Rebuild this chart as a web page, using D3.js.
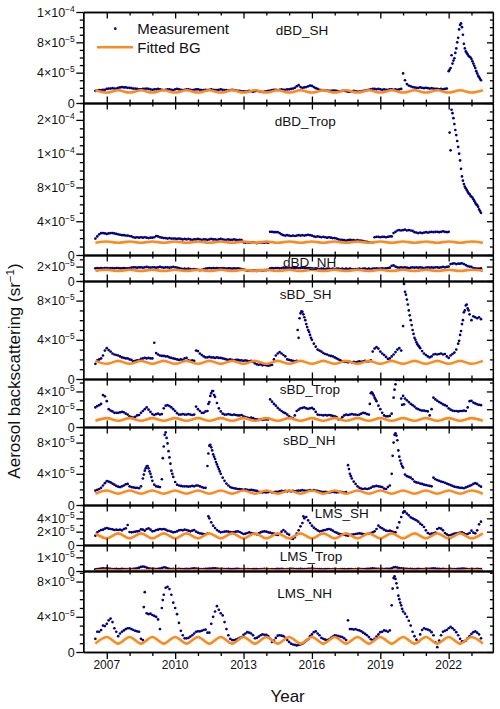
<!DOCTYPE html>
<html>
<head>
<meta charset="utf-8">
<script src="https://cdn.jsdelivr.net/npm/d3@7"></script>
<style>
  body { margin: 0; background: #fff; }
  svg { display: block; }
  text { font-family: "Liberation Sans", Arial, sans-serif; fill: #111; }
</style>
</head>
<body>
<div id="chart"></div>
<script>
// values in units of 1e-5 sr^-1, monthly from 2006.5
var UNIT = 1e-5, START = 2006.5, STEP = 1 / 12, BG_STEP = 0.5;

var panelNames = ["dBD_SH", "dBD_Trop", "dBD_NH", "sBD_SH", "sBD_Trop", "sBD_NH", "LMS_SH", "LMS_Trop", "LMS_NH"];
var yMax = [12, 18, 3.6, 10, 5.4, 10, 6, 1.9, 9.2];
var yTicks = [[0, 4, 8, 12], [0, 4, 8, 12, 16], [0, 2], [0, 4, 8], [0, 2, 4], [0, 4, 8], [0, 2, 4], [0, 1], [0, 4, 8]];
var yTickLabels = [
  ["0", "4×10^-5", "8×10^-5", "1×10^-4"],
  ["0", "4×10^-5", "8×10^-5", "1×10^-4", "2×10^-4"],
  ["0", "2×10^-5"],
  ["0", "4×10^-5", "8×10^-5"],
  ["0", "2×10^-5", "4×10^-5"],
  ["0", "4×10^-5", "8×10^-5"],
  ["0", "2×10^-5", "4×10^-5"],
  ["0", "1×10^-5"],
  ["0", "4×10^-5", "8×10^-5"]
];
var yMinorStep = [1, 1, 1, 1, 1, 1, 1, 0.5, 1];
var xMajor = [2007, 2010, 2013, 2016, 2019, 2022];
var xMinor = [2008, 2009, 2011, 2012, 2014, 2015, 2017, 2018, 2020, 2021, 2023];

var dBD_SH = [
  1.6,1.65,1.7,1.7,1.75,1.75, 1.85,1.9,1.9,1.95,1.9,1.9, 2.0,2.05,2.1,2.05,2.05,2.0, 2.0,1.95,1.9,1.9,1.85,1.8,
  1.8,1.85,1.85,1.9,1.85,1.8, 1.75,1.8,1.8,1.85,1.8,1.75, 1.7,1.75,1.8,1.8,1.75,1.7, 1.8,1.85,1.8,1.75,1.7,1.75,
  1.8,1.8,1.75,1.7,1.75,1.8, 1.8,1.75,1.7,1.7,1.75,1.7, 1.75,1.8,1.75,1.7,1.7,1.75, 1.8,1.75,1.7,1.7,1.65,1.7,
  1.75,1.7,1.65,1.6,1.6,1.55, 1.55,1.5,1.55,1.6,1.55,1.5, 1.55,1.6,1.55,1.5,1.45,1.5, 1.55,1.6,1.65,1.7,1.75,1.75,
  1.7,1.75,1.8,1.75,1.75,1.8, 1.8,1.85,1.9,2.0,2.2,2.35, 2.1,2.0,2.05,2.1,2.2,2.3, 2.25,2.1,1.95,1.85,1.75,1.7,
  1.7,1.65,1.65,1.6,1.6,1.65, 1.65,1.6,1.55,1.55,1.6,1.6, 1.55,1.5,1.5,1.55,1.6,1.55, 1.5,1.5,1.55,1.6,1.65,1.7,
  1.75,1.8,1.85,1.85,1.8,1.85, 1.8,1.75,1.8,1.75,1.75,1.8, 1.8,1.75,1.8,1.75,1.8,1.85, 3.9,3.0,2.5,2.3,2.2,2.1,
  2.05,2.0,2.0,2.05,2.0,1.95, 2.0,1.95,1.9,1.95,1.9,1.85, 1.85,1.8,1.85,1.8,1.85,1.9, 4.2,4.6,5.2,5.9,7.2,8.6,
  10.3,10.0,7.8,6.8,6.4,6.1, 5.8,5.2,4.6,3.9,3.4,3.0
];
var dBD_Trop = [
  1.95,2.2,2.45,2.6,2.6,2.55, 2.5,2.55,2.6,2.6,2.55,2.5, 2.45,2.4,2.35,2.35,2.3,2.3, 2.25,2.2,2.1,2.05,2.1,2.05,
  2.1,2.05,2.1,2.05,2.0,2.05, 2.05,2.1,2.25,2.2,2.1,2.05, 2.0,2.0,1.95,2.0,1.95,1.95, 1.95,1.9,1.95,1.9,1.85,1.9,
  1.85,1.9,1.85,1.8,1.85,1.85, 1.9,1.85,1.8,1.85,1.85,1.8, 1.85,1.9,1.85,1.85,1.8,1.85, 1.9,1.85,1.8,1.8,1.85,1.8,
  1.8,1.85,1.8,1.75,1.8,1.75, 1.5,1.45,1.5,1.45,1.45,1.5, 1.45,1.4,1.45,1.5,1.45,1.45, 1.5,1.45,2.75,2.75,2.7,2.7,
  2.7,2.6,2.45,2.35,2.3,2.35, 2.3,2.25,2.3,2.25,2.3,2.35, 2.3,2.35,2.3,2.35,2.4,2.35, 2.3,2.2,2.15,2.2,2.15,2.1,
  2.15,2.1,2.05,2.1,2.05,2.0, 2.0,1.95,1.85,1.8,1.8,1.75, 1.7,1.75,1.8,1.75,1.75,1.7, 1.75,1.7,1.7,1.65,1.6,1.55,
  1.5,1.45,1.5,2.1,2.15,2.15, 2.1,2.15,2.15,2.1,2.15,2.2, 2.2,2.6,2.75,2.9,2.95,2.9, 2.95,3.0,2.9,2.95,2.9,2.85,
  2.7,2.65,2.6,2.65,2.6,2.65, 2.7,2.65,2.7,2.75,2.7,2.75, 2.75,2.7,2.75,2.8,2.75,2.7, 2.75,12.4,16.8,15.5,14.2,12.8,
  11.2,9.3,8.4,7.9,7.5,7.2, 6.9,6.6,6.2,5.9,5.4,5.0
];
var dBD_NH = [
  1.75,1.8,1.75,1.8,1.75,1.8, 1.8,1.75,1.8,1.8,1.75,1.8, 1.8,1.75,1.75,1.8,1.75,1.75, 1.8,1.85,1.9,1.9,1.85,1.9,
  1.9,1.85,1.9,1.95,1.9,1.85, 1.9,1.9,1.85,1.9,1.95,1.9, 1.85,1.9,1.9,1.85,1.9,1.95, 1.9,1.85,1.8,1.7,1.65,1.7,
  1.65,1.7,1.65,1.6,1.65,1.6, 1.55,1.5,1.55,1.6,1.7,1.75, 1.8,1.75,1.8,1.75,1.8,1.75, 1.75,1.8,1.75,1.7,1.75,1.75,
  1.7,1.75,1.7,1.75,1.7,1.65, 1.6,1.5,1.45,1.45,1.4,1.45, 1.45,1.4,1.45,1.5,1.45,1.5, 1.5,1.55,1.75,1.8,1.75,1.8,
  1.8,1.75,1.8,1.85,1.8,1.75, 1.8,1.8,1.75,1.8,1.85,1.8, 1.8,1.85,1.8,1.75,1.8,1.8, 1.75,1.7,1.75,1.7,1.65,1.7,
  1.7,1.65,1.7,1.7,1.65,1.7, 1.65,1.7,1.7,1.65,1.7,1.65, 1.7,1.65,1.7,1.65,1.6,1.65, 1.65,1.7,1.65,1.7,1.7,1.65,
  1.7,1.65,1.7,1.7,1.75,1.7, 1.7,1.75,1.7,1.75,1.8,1.85, 2.1,2.15,2.0,1.9,1.85,1.9, 1.85,1.9,1.85,1.8,1.85,1.9,
  1.85,1.9,1.85,1.9,1.85,1.8, 1.85,1.9,1.85,1.9,1.85,1.9, 1.9,1.85,1.9,1.95,1.9,1.95, 2.0,2.35,2.4,2.45,2.35,2.4,
  2.4,2.45,2.35,2.2,2.05,2.0, 1.95,1.8,1.75,1.7,1.7,1.75
];
var sBD_SH = [
  1.55,1.9,2.0,2.1,2.4,2.9, 3.15,2.95,2.8,2.6,2.5,2.45, 2.4,2.3,2.2,2.15,2.1,2.1, 2.0,1.95,1.8,1.85,1.9,1.9,
  2.05,2.1,2.15,2.1,2.15,2.1, 2.1,3.7,2.65,2.5,2.4,2.35, 2.35,2.3,2.3,2.2,2.15,2.1, 2.05,2.0,1.95,2.0,1.95,2.1,
  2.15,1.9,1.85,1.9,1.85,2.9, 2.85,2.6,2.45,2.3,2.2,2.2, 2.25,2.2,2.2,2.15,2.2,2.15, 2.15,2.1,2.05,2.0,1.95,2.0,
  1.95,1.9,1.95,1.95,1.9,1.9, 1.85,1.9,1.85,1.8,1.85,1.75, 1.6,1.5,1.45,1.5,1.4,1.45, 1.4,1.35,1.4,1.45,2.0,2.4,
  2.6,2.75,2.6,2.45,2.3,2.0, 1.95,1.9,1.85,1.8,1.85,4.2, 6.7,6.85,6.3,5.6,5.0,4.5, 4.0,3.6,3.3,3.0,2.9,2.8,
  2.65,2.55,2.5,2.4,2.35,2.3, 2.2,2.1,2.0,1.9,1.8,1.75, 1.75,1.7,1.75,1.7,1.75,1.7, 1.75,1.8,1.75,1.8,1.85,1.8,
  1.8,1.9,2.8,3.1,3.25,3.1, 2.8,2.6,2.45,2.25,2.05,2.1, 2.3,2.5,2.75,3.0,3.15,2.9, 5.4,8.9,8.1,7.0,6.0,5.0,
  4.2,3.75,3.4,3.15,2.85,2.6, 2.45,2.3,2.2,2.3,2.5,2.55, 2.5,2.55,2.6,2.5,2.55,2.3, 2.15,2.4,2.55,2.7,3.0,3.6,
  4.5,5.6,6.8,7.5,7.2,6.6, 6.0,6.4,6.3,6.2,6.3,6.1
];
var sBD_Trop = [
  2.2,2.35,2.45,2.6,3.6,3.45, 2.9,2.0,1.85,1.75,1.6,1.6, 1.6,1.65,1.7,1.65,1.5,1.4, 1.2,1.1,1.05,1.15,1.3,1.35,
  1.6,1.8,2.0,2.2,1.95,1.7, 1.45,1.35,1.45,1.5,1.4,1.45, 2.1,2.4,2.45,2.35,2.2,2.0, 1.8,1.55,1.4,1.4,1.45,1.4,
  1.4,1.45,1.4,1.35,1.4,2.3, 2.0,1.8,1.6,1.6,1.75,1.8, 2.8,3.8,4.05,3.4,2.7,2.1, 1.75,1.5,1.4,1.4,1.45,1.4,
  1.35,1.4,1.35,1.3,1.3,1.35, 1.2,1.1,1.05,1.0,1.05,1.0, 0.9,0.85,0.8,0.85,0.8,0.85, 0.85,0.85,3.1,2.85,2.6,2.4,
  2.15,1.95,1.8,1.65,1.55,1.4, 1.2,1.05,1.0,1.3,1.8,1.95, 2.1,2.15,2.2,2.1,2.05,2.1, 2.15,2.0,1.7,1.4,1.35,1.35,
  1.3,1.35,1.3,1.35,1.3,1.25, 1.2,1.1,0.85,0.9,1.1,1.3, 1.4,1.35,1.4,1.45,1.4,1.4, 1.35,1.4,1.5,1.6,1.55,1.45,
  1.4,3.8,3.75,3.3,2.9,2.4, 2.0,1.6,1.3,1.2,1.2,1.25, 1.5,3.3,4.8,5.6,5.3,3.2, 3.5,3.2,3.0,2.8,2.6,2.45,
  2.3,2.1,2.0,1.9,1.85,1.85, 1.8,1.75,1.3,2.0,3.3,3.1, 2.95,2.8,2.7,2.55,2.45,2.35, 2.1,1.95,1.85,1.8,1.8,1.75,
  1.8,1.8,1.85,1.8,2.2,2.9, 2.95,2.75,2.65,2.55,2.5,2.45
];
var sBD_NH = [
  1.85,1.95,2.05,2.2,2.5,2.8, 3.05,3.0,2.9,2.75,2.6,2.45, 2.35,2.3,2.4,2.5,2.65,2.7, 2.4,2.3,2.25,2.2,2.2,2.15,
  2.4,3.4,4.4,4.95,4.7,4.0, 3.1,2.6,2.4,2.35,2.3,3.3, 7.5,9.3,7.9,6.1,4.4,3.6, 2.95,2.6,2.5,2.45,2.4,2.4,
  2.4,2.35,2.4,2.45,2.4,2.5, 2.5,2.4,2.3,2.2,2.2,5.0, 7.6,7.4,6.5,5.9,5.2,4.6, 4.0,3.5,3.1,2.75,2.5,2.3,
  2.2,2.15,2.1,2.05,2.05,2.0, 1.95,2.0,1.95,1.9,1.95,1.9, 1.85,1.8,1.7,1.65,1.6,1.65, 1.6,1.65,1.7,1.6,1.65,1.7,
  1.7,1.75,1.8,1.75,1.8,1.75, 1.8,1.75,1.8,1.75,1.8,1.85, 1.85,1.9,1.85,1.8,1.85,1.9, 1.85,1.9,1.85,1.8,1.75,1.7,
  1.65,1.7,1.65,1.6,1.65,1.7, 1.65,1.6,1.65,1.7,1.65,1.6, 1.65,5.1,4.0,3.4,3.0,2.7, 2.4,2.2,2.1,2.05,2.1,2.05,
  2.1,2.2,2.35,2.4,2.45,2.4, 2.35,2.3,2.1,2.05,2.3,2.5, 4.0,8.0,9.2,8.3,6.2,5.3, 4.8,3.9,3.7,3.6,3.5,3.3,
  3.0,2.9,2.85,2.75,2.7,2.6, 2.55,2.5,2.45,2.4,3.5,3.3, 3.2,3.1,3.0,2.95,2.85,2.75, 2.65,2.55,2.45,2.35,2.3,2.25,
  2.2,2.2,2.15,2.25,2.35,2.45, 2.55,2.7,2.8,2.7,2.5,2.35
];
var LMS_SH = [
  1.4,1.9,2.1,2.25,2.3,2.45, 2.55,2.45,2.4,2.35,2.25,2.3, 2.25,2.3,2.2,2.4,2.5,3.0, 1.95,1.9,1.95,2.0,2.05,2.1,
  2.35,2.3,2.15,2.4,2.5,2.3, 2.05,2.1,2.25,2.3,2.4,2.35, 2.4,2.3,2.15,2.1,2.0,1.9, 1.95,2.05,2.2,2.25,2.2,2.3,
  2.25,2.15,2.05,2.15,2.25,2.0, 1.85,1.75,1.7,1.65,1.6,1.7, 4.0,3.4,2.9,2.55,2.25,2.05, 1.9,1.95,2.0,2.05,2.0,1.95,
  1.9,1.95,2.0,2.05,1.95,1.8, 1.65,1.7,1.8,1.9,1.8,1.75, 1.65,1.6,1.75,1.9,2.0,2.05, 2.0,1.9,1.85,1.75,1.7,1.55,
  1.5,1.65,2.0,2.25,2.0,1.7, 1.55,1.0,0.9,1.15,1.7,2.2, 2.8,3.3,4.0,4.2,3.7,3.3, 2.9,2.6,2.4,2.2,2.05,2.1,
  2.2,2.25,2.35,2.4,2.3,2.15, 1.95,1.85,1.7,1.65,1.6,1.55, 1.45,1.4,1.5,1.55,1.6,1.65, 1.7,1.75,1.7,1.65,1.6,1.65,
  1.7,1.8,1.9,2.05,2.4,2.9, 2.65,2.5,2.3,2.15,2.1,2.15, 2.05,1.95,1.9,2.6,3.4,4.2, 4.85,5.0,4.7,4.45,4.15,4.0,
  3.85,3.7,3.5,3.2,3.0,2.7, 2.2,1.8,1.65,1.7,1.75,1.85, 2.4,2.55,2.45,2.2,1.8,1.6, 1.45,1.5,1.6,1.7,1.75,1.8,
  1.85,1.9,1.75,1.6,1.65,1.8, 2.15,1.85,1.75,2.2,3.1,3.5
];
var LMS_Trop = [
  0.12,0.14,0.15,0.17,0.2,0.18, 0.2,0.17,0.15,0.14,0.13,0.15, 0.14,0.13,0.15,0.14,0.13,0.14, 0.15,0.14,0.16,0.18,0.2,0.24,
  0.3,0.32,0.3,0.25,0.2,0.17, 0.15,0.16,0.14,0.15,0.18,0.22, 0.27,0.25,0.2,0.16,0.14,0.15, 0.13,0.14,0.15,0.14,0.13,0.14,
  0.15,0.14,0.16,0.18,0.2,0.17, 0.15,0.14,0.13,0.14,0.15,0.16, 0.17,0.18,0.2,0.19,0.17,0.15, 0.14,0.15,0.13,0.14,0.15,0.14,
  0.13,0.14,0.15,0.16,0.14,0.13, 0.12,0.13,0.14,0.13,0.12,0.13, 0.14,0.13,0.12,0.13,0.14,0.15, 0.14,0.13,0.12,0.13,0.12,0.14,
  0.15,0.14,0.15,0.13,0.12,0.13, 0.14,0.15,0.16,0.14,0.13,0.14, 0.15,0.14,0.13,0.14,0.15,0.16, 0.17,0.16,0.14,0.13,0.14,0.13,
  0.12,0.13,0.14,0.13,0.12,0.13, 0.14,0.13,0.12,0.13,0.14,0.13, 0.12,0.13,0.14,0.13,0.12,0.13, 0.14,0.15,0.14,0.13,0.14,0.15,
  0.16,0.18,0.2,0.18,0.16,0.15, 0.14,0.15,0.14,0.15,0.16,0.15, 0.2,0.27,0.28,0.25,0.22,0.2, 0.18,0.16,0.15,0.14,0.15,0.14,
  0.13,0.14,0.15,0.14,0.13,0.14, 0.15,0.16,0.15,0.18,0.2,0.18, 0.16,0.15,0.14,0.15,0.14,0.13, 0.14,0.15,0.14,0.13,0.14,0.15,
  0.16,0.18,0.17,0.15,0.14,0.13, 0.14,0.13,0.14,0.15,0.14,0.13
];
var LMS_NH = [
  1.5,2.3,2.3,2.5,3.0,2.95, 3.2,3.6,3.8,3.4,2.7,2.3, 1.8,2.1,2.3,2.45,2.6,2.7, 2.7,2.6,2.5,2.4,2.35,2.3,
  1.5,1.35,6.8,4.4,4.3,4.35, 4.2,4.1,4.0,3.7,2.6,5.0, 6.5,7.3,7.4,7.15,6.5,5.6, 5.0,4.3,3.3,2.4,1.9,1.55,
  1.55,1.6,1.75,1.9,2.1,2.3, 2.35,2.35,2.4,2.5,2.55,2.2, 2.2,3.2,4.0,4.6,5.2,4.8, 4.4,4.15,3.4,2.6,1.9,1.5,
  1.35,1.35,1.4,1.5,1.6,1.7, 1.95,2.1,2.25,2.2,2.1,1.9, 1.55,1.6,1.75,1.9,2.0,1.95, 1.95,1.8,1.5,1.15,1.3,1.6,
  1.85,1.9,1.85,1.8,1.6,1.35, 1.15,0.95,0.85,0.8,0.75,0.8, 0.85,0.95,1.1,1.3,1.45,1.8, 2.0,2.25,2.35,2.1,1.9,1.6,
  1.5,1.4,1.35,1.45,1.6,1.75, 1.9,1.85,1.8,1.75,1.7,1.55, 1.35,3.6,2.6,2.6,2.55,2.6, 2.5,2.45,2.35,2.2,2.05,1.9,
  1.7,1.45,1.35,1.5,1.75,2.0, 2.25,2.3,2.45,2.4,2.3,2.45, 5.3,8.4,8.3,7.3,6.0,5.3, 4.6,4.35,4.0,3.55,3.0,2.3,
  1.8,1.4,1.15,2.0,2.5,2.7, 2.6,2.55,2.45,2.25,1.9,1.1, 0.55,1.3,1.9,2.3,2.4,2.5, 2.7,2.85,2.7,2.5,2.25,1.9,
  1.5,1.2,1.2,1.3,1.55,1.8, 2.05,2.25,2.35,2.2,2.0,1.55
];

// extra readings inside fast events, [first year, values every month]
var extraDBD_SH = [[2022.0417, [4.4,6.3,5.6,6.6,8.0,9.7,10.5,9.0,7.2,6.6,6.2,6.0,5.5,4.9,4.2,3.6,3.2]]];
var extraDBD_Trop = [[2022.0417, [14.5,17.2,16.2,14.8,13.5,12.0,10.2,8.8,8.1,7.7,7.3,7.0,6.8,6.4,6.0,5.7,5.2]]];
var extraDBD_NH = [];
var extraSBD_SH = [[2015.375, [5.0,6.2,6.9,6.6,6.0,5.3,4.8,4.2]], [2020.0417, [9.7,8.6,7.6,6.5,5.5,4.6,4.0,3.55,3.3]],
  [2022.4583, [3.9,4.9,6.0,7.0,7.6,7.0]]];
var extraSBD_Trop = [[2011.4583, [2.6,3.5,4.05,3.6]], [2018.5417, [2.6,3.9,3.55,3.1]], [2019.625, [4.2,5.3,5.6]],
  [2019.9583, [2.5,2.55]]];
var extraSBD_NH = [[2008.625, [3.9,4.7,5.0,4.3,3.6]], [2009.4583, [6.0,9.0,8.6,6.9,5.3,4.0]],
  [2011.4583, [6.6,7.7,7.0,6.2,5.5,4.9,4.3]], [2017.625, [4.6,3.7]], [2019.5417, [6.3,9.0,8.9,7.0,5.7,5.0]]];
var extraLMS_SH = [[2011.4583, [4.3]], [2015.625, [4.3]], [2020.0417, [5.05]]];
var extraLMS_Trop = [];
var extraLMS_NH = [[2008.625, [5.1]], [2009.4583, [5.9]], [2019.5417, [7.2,8.6,7.8,6.4,5.6,4.9]]];

// fitted background, every half year from 2006.5
var bgDBD_SH = [1.68,1.38,1.68,1.38,1.68,1.38,1.68,1.38,1.68,1.38,1.68,1.38,1.68,1.38,1.68,1.38,1.68,1.38,
  1.68,1.38,1.68,1.38,1.68,1.38,1.68,1.38,1.68,1.38,1.68,1.38,1.68,1.38,1.68,1.38,1.68];
var bgDBD_Trop = [1.45,1.6,1.45,1.6,1.45,1.6,1.45,1.6,1.45,1.6,1.45,1.6,1.45,1.6,1.45,1.6,1.45,1.6,
  1.45,1.6,1.45,1.6,1.45,1.6,1.45,1.6,1.45,1.6,1.45,1.6,1.45,1.6,1.45,1.6,1.45];
var bgDBD_NH = [1.4,1.55,1.4,1.55,1.4,1.55,1.4,1.55,1.4,1.55,1.4,1.55,1.4,1.55,1.4,1.55,1.4,1.55,
  1.4,1.55,1.4,1.55,1.4,1.55,1.4,1.55,1.4,1.55,1.4,1.55,1.4,1.55,1.4,1.55,1.4];
var bgSBD_SH = [1.85,1.55,1.85,1.55,1.85,1.55,1.85,1.55,1.85,1.55,1.85,1.55,1.85,1.55,1.85,1.55,1.85,1.55,
  1.85,1.55,1.85,1.55,1.85,1.55,1.85,1.55,1.85,1.55,1.85,1.55,1.85,1.55,1.85,1.55,1.85];
var bgSBD_Trop = [0.7,1.0,0.7,1.0,0.7,1.0,0.7,1.0,0.7,1.0,0.7,1.0,0.7,1.0,0.7,1.0,0.7,1.0,
  0.7,1.0,0.7,1.0,0.7,1.0,0.7,1.0,0.7,1.0,0.7,1.0,0.7,1.0,0.7,1.0,0.7];
var bgSBD_NH = [1.45,1.85,1.45,1.85,1.45,1.85,1.45,1.85,1.45,1.85,1.45,1.85,1.45,1.85,1.45,1.85,1.45,1.85,
  1.45,1.85,1.45,1.85,1.45,1.85,1.45,1.85,1.45,1.85,1.45,1.85,1.45,1.85,1.45,1.85,1.45];
var bgLMS_SH = [1.75,1.0,1.75,1.0,1.75,1.0,1.75,1.0,1.75,1.0,1.75,1.0,1.75,1.0,1.75,1.0,1.75,1.0,
  1.75,1.0,1.75,1.0,1.75,1.0,1.75,1.0,1.75,1.0,1.75,1.0,1.75,1.0,1.75,1.0,1.75];
var bgLMS_Trop = [0.04,0.07,0.04,0.07,0.04,0.07,0.04,0.07,0.04,0.07,0.04,0.07,0.04,0.07,0.04,0.07,0.04,0.07,
  0.04,0.07,0.04,0.07,0.04,0.07,0.04,0.07,0.04,0.07,0.04,0.07,0.04,0.07,0.04,0.07,0.04];
var bgLMS_NH = [0.95,1.7,0.95,1.7,0.95,1.7,0.95,1.7,0.95,1.7,0.95,1.7,0.95,1.7,0.95,1.7,0.95,1.7,
  0.95,1.7,0.95,1.7,0.95,1.7,0.95,1.7,0.95,1.7,0.95,1.7,0.95,1.7,0.95,1.7,0.95];

(function() {
  var measurements = [dBD_SH, dBD_Trop, dBD_NH, sBD_SH, sBD_Trop, sBD_NH, LMS_SH, LMS_Trop, LMS_NH];
  var extras = [extraDBD_SH, extraDBD_Trop, extraDBD_NH, extraSBD_SH, extraSBD_Trop, extraSBD_NH, extraLMS_SH, extraLMS_Trop, extraLMS_NH];
  var backgrounds = [bgDBD_SH, bgDBD_Trop, bgDBD_NH, bgSBD_SH, bgSBD_Trop, bgSBD_NH, bgLMS_SH, bgLMS_Trop, bgLMS_NH];

  var WIDTH = 500, HEIGHT = 709;
  var X0 = 83.3, X1 = 492.9;
  var EDGES = [12, 103, 255, 281, 379, 427, 505, 545, 571, 652];
  // panel name placement: [year, baseline below panel top]
  var LABEL_POS = [[2014.41, 22.5], [2014.37, 23], [2014.73, 11.7], [2014.59, 17.7], [2014.59, 15],
                   [2014.73, 17.7], [2016.12, 13.3], [2014.59, 16.3], [2014.48, 27]];
  var NAVY = '#000080', ORANGE = '#FF8A1C';

  var svg = d3.select('#chart').append('svg')
    .attr('width', WIDTH)
    .attr('height', HEIGHT);

  var x = d3.scaleLinear().domain([2005.97, 2023.94]).range([X0, X1]);
  var defs = svg.append('defs');

  function tickText(sel, label) {
    var parts = label.split('^');
    sel.append('tspan').text(parts[0]);
    if (parts[1]) {
      sel.append('tspan')
        .attr('dy', -5)
        .attr('font-size', 8.5)
        .text(parts[1].replace('-', '\u2212'));
    }
  }

  function styleAxis(g) {
    g.selectAll('path, line').attr('stroke', '#000').attr('stroke-width', 1.3);
    g.selectAll('text').remove();
  }

  panelNames.forEach(function(name, p) {
    var top = EDGES[p], bottom = EDGES[p + 1];
    var y = d3.scaleLinear().domain([0, yMax[p] * UNIT]).range([bottom, top]);
    var major = yTicks[p].map(function(v) { return v * UNIT; });
    var minor = d3.range(0, yMax[p] + 1e-9, yMinorStep[p])
      .filter(function(v) { return yTicks[p].indexOf(v) < 0; })
      .map(function(v) { return v * UNIT; });

    defs.append('clipPath').attr('id', 'clip' + p)
      .append('rect')
        .attr('x', X0).attr('y', top)
        .attr('width', X1 - X0).attr('height', bottom - top);

    var panel = svg.append('g').attr('class', 'panel');
    var plot = panel.append('g').attr('clip-path', 'url(#clip' + p + ')');

    var points = [];
    measurements[p].forEach(function(v, i) {
      if (v != null) points.push({ t: START + i * STEP, v: v * UNIT });
    });
    extras[p].forEach(function(seg) {
      seg[1].forEach(function(v, i) {
        points.push({ t: seg[0] + i * STEP, v: v * UNIT });
      });
    });

    plot.selectAll('circle')
      .data(points)
      .enter()
        .append('circle')
        .attr('cx', function(d) { return x(d.t); })
        .attr('cy', function(d) { return y(d.v); })
        .attr('r', 1.35)
        .style('fill', NAVY);

    var bg = backgrounds[p].map(function(v, i) { return { t: START + i * BG_STEP, v: v * UNIT }; });
    plot.append('path')
      .datum(bg)
      .attr('d', d3.line()
        .curve(d3.curveMonotoneX)
        .x(function(d) { return x(d.t); })
        .y(function(d) { return y(d.v); }))
      .style('fill', 'none')
      .style('stroke', ORANGE)
      .style('stroke-width', 2.6);

    // left axis, ticks outside
    panel.append('g').attr('transform', 'translate(' + X0 + ',0)')
      .call(d3.axisLeft(y).tickValues(major).tickSize(7).tickSizeOuter(0))
      .call(styleAxis);
    panel.append('g').attr('transform', 'translate(' + X0 + ',0)')
      .call(d3.axisLeft(y).tickValues(minor).tickSize(3.5).tickSizeOuter(0))
      .call(styleAxis);
    // right axis, ticks inside
    panel.append('g').attr('transform', 'translate(' + X1 + ',0)')
      .call(d3.axisLeft(y).tickValues(major).tickSize(6).tickSizeOuter(0))
      .call(styleAxis);
    panel.append('g').attr('transform', 'translate(' + X1 + ',0)')
      .call(d3.axisLeft(y).tickValues(minor).tickSize(3).tickSizeOuter(0))
      .call(styleAxis);
    // top of panel, ticks pointing down
    panel.append('g').attr('transform', 'translate(0,' + top + ')')
      .call(d3.axisBottom(x).tickValues(xMajor).tickSize(6.5).tickSizeOuter(0))
      .call(styleAxis);
    panel.append('g').attr('transform', 'translate(0,' + top + ')')
      .call(d3.axisBottom(x).tickValues(xMinor).tickSize(3.5).tickSizeOuter(0))
      .call(styleAxis);
    var last = p === panelNames.length - 1;
    panel.append('g').attr('transform', 'translate(0,' + bottom + ')')
      .call((last ? d3.axisBottom(x) : d3.axisTop(x)).tickValues(xMajor).tickSize(last ? 7 : 6.5).tickSizeOuter(0))
      .call(styleAxis);
    panel.append('g').attr('transform', 'translate(0,' + bottom + ')')
      .call((last ? d3.axisBottom(x) : d3.axisTop(x)).tickValues(xMinor).tickSize(last ? 4 : 3.5).tickSizeOuter(0))
      .call(styleAxis);

    panel.selectAll('.ylab')
      .data(yTicks[p])
      .enter()
        .append('text')
        .attr('class', 'ylab')
        .attr('x', X0 - 8.5)
        .attr('y', function(d) { return y(d * UNIT) + 4.5; })
        .attr('text-anchor', 'end')
        .attr('font-size', 12.5)
        .each(function(d, i) { tickText(d3.select(this), yTickLabels[p][i]); });

    panel.append('text')
      .attr('x', x(LABEL_POS[p][0]))
      .attr('y', top + LABEL_POS[p][1])
      .attr('font-size', 13.5)
      .text(name);

    if (last) {
      panel.selectAll('.xlab')
        .data(xMajor)
        .enter()
          .append('text')
          .attr('class', 'xlab')
          .attr('x', function(d) { return x(d); })
          .attr('y', bottom + 16.5)
          .attr('text-anchor', 'middle')
          .attr('font-size', 12)
          .text(function(d) { return d; });
    }
  });

  // legend
  var legend = svg.append('g').attr('class', 'legend');
  legend.append('circle').attr('cx', 115.3).attr('cy', 28.7).attr('r', 1.35).style('fill', NAVY);
  legend.append('text').attr('x', 137.3).attr('y', 34).attr('font-size', 15).text('Measurement');
  legend.append('line').attr('x1', 97).attr('x2', 133).attr('y1', 47.3).attr('y2', 47.3)
    .style('stroke', ORANGE).style('stroke-width', 2.6);
  legend.append('text').attr('x', 137.3).attr('y', 52.6).attr('font-size', 15).text('Fitted BG');

  // axis titles
  svg.append('text')
    .attr('x', (X0 + X1) / 2 - 0.5)
    .attr('y', 702)
    .attr('text-anchor', 'middle')
    .attr('font-size', 17)
    .text('Year');

  var ytitle = svg.append('text')
    .attr('transform', 'translate(20,371) rotate(-90)')
    .attr('text-anchor', 'middle')
    .attr('font-size', 17);
  ytitle.append('tspan').text('Aerosol backscattering (sr');
  ytitle.append('tspan').attr('dy', -6).attr('font-size', 11.5).text('\u22121');
  ytitle.append('tspan').attr('dy', 6).text(')');
})();
</script>
</body>
</html>
